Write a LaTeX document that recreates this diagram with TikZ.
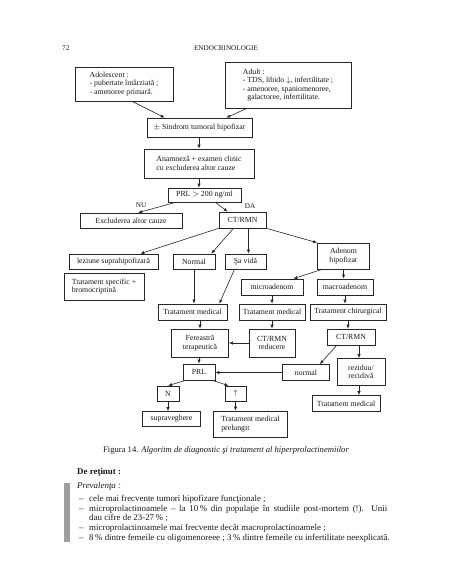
\documentclass[tikz,border=0pt]{standalone}
\usepackage{fontspec}
\setmainfont{Liberation Serif}
\usetikzlibrary{arrows.meta}

\begin{document}
\begin{tikzpicture}[x=1pt,y=-1pt,
    box/.style={draw=black!85, line width=0.6pt, font=\fontsize{7.8}{8.4}\selectfont, align=center, inner sep=1.5pt, text=black!90},
    arr/.style={draw=black!85, line width=0.6pt, -{Latex[length=4pt,width=3.2pt]}},
    lbl/.style={font=\fontsize{7.2}{8}\selectfont, inner sep=0pt, text=black!90},
    txt/.style={font=\fontsize{8.9}{9.7}\selectfont, anchor=base west, inner sep=0pt, text=black!90}]
\useasboundingbox[fill=white] (0,0) rectangle (452,584);

\node[lbl, anchor=base west] (pagenum) at (62,50) {72};
\node[lbl, anchor=base] (header) at (226,50) {ENDOCRINOLOGIE};

\node[box, minimum width=98, minimum height=34, align=left] (adol) at (124,84) {Adolescent :\\- pubertate întârziată ;\\- amenoree primară.};
\node[box, minimum width=126, minimum height=46, align=left] (adult) at (288,85) {Adult :\\- TDS, libido $\downarrow$, infertilitate ;\\- amenoree, spaniomenoree,\\\hphantom{- }galactoree, infertilitate.};
\node[box, minimum width=105, minimum height=19] (sindrom) at (199.5,127.5) {$\pm$ Sindrom tumoral hipofizar};
\node[box, minimum width=110, minimum height=29, align=left] (anam) at (199,163.5) {Anamneză + examen clinic\\cu excluderea altor cauze};
\node[box, minimum width=73, minimum height=14] (prl) at (204.5,195) {PRL~$>$~200 ng/ml};
\node[lbl] (nu) at (141,205) {NU};
\node[lbl] (da) at (250,206) {DA};
\node[box, minimum width=102, minimum height=15] (excl) at (131,220.5) {Excluderea altor cauze};
\node[box, minimum width=47, minimum height=16] (ct) at (242.5,220) {CT/RMN};

\node[box, minimum width=89, minimum height=15] (lez) at (113.5,261.5) {leziune suprahipofizară};
\node[box, minimum width=42, minimum height=15] (normal) at (194,261.5) {Normal};
\node[box, minimum width=41, minimum height=15] (savida) at (245.5,261.5) {Şa vidă};
\node[box, minimum width=52, minimum height=26] (adenom) at (343.5,256) {Adenom\\hipofizar};
\node[box, minimum width=80, minimum height=27, align=left] (tratspec) at (104,286.5) {Tratament specific +\\bromocriptină};
\node[box, minimum width=62, minimum height=16] (micro) at (272,287) {microadenom};
\node[box, minimum width=56, minimum height=16] (macro) at (345,287) {macroadenom};

\node[box, minimum width=69, minimum height=16] (med1) at (192.5,312) {Tratament medical};
\node[box, minimum width=66, minimum height=16] (med2) at (272,312) {Tratament medical};
\node[box, minimum width=76, minimum height=16] (chir) at (348,312) {Tratament chirurgical};
\node[box, minimum width=57, minimum height=28] (fer) at (200,343) {Fereastră\\terapeutică};
\node[box, minimum width=46, minimum height=28] (ctred) at (272,343) {CT/RMN\\reducere};
\node[box, minimum width=48, minimum height=16] (ct2) at (351,337) {CT/RMN};

\node[box, minimum width=32, minimum height=16] (prl2) at (199,372) {PRL};
\node[box, minimum width=47, minimum height=16] (normal2) at (306,372.5) {normal};
\node[box, minimum width=48, minimum height=27] (rez) at (361,372) {reziduu/\\recidivă};
\node[box, minimum width=22, minimum height=15] (n) at (168,393.5) {N};
\node[box, minimum width=21, minimum height=15] (up) at (235.5,393.5) {$\uparrow$};
\node[box, minimum width=68, minimum height=16] (med3) at (346,403.5) {Tratament medical};
\node[box, minimum width=58, minimum height=15] (supr) at (171.5,419) {supraveghere};
\node[box, minimum width=74, minimum height=26, align=left] (prel) at (250.5,424) {Tratament medical\\prelungit};

\draw[arr] ([xshift=8pt]adol.south) -- ([xshift=18pt]sindrom.north west);
\draw[arr] ([xshift=-41pt]adult.south) -- ([xshift=-26pt]sindrom.north east);
\draw[arr] (sindrom.south -| anam.north) -- (anam.north);
\draw[arr] (anam.south) -- (anam.south |- prl.north);
\draw[arr] ([xshift=8pt]prl.south west) -- ([xshift=7pt]excl.north);
\draw[arr] ([xshift=-26pt]prl.south east) -- ([xshift=9pt]ct.north west);
\draw[arr] (ct.south west) -- ([xshift=-18pt]lez.north east);
\draw[arr] ([xshift=-9pt]ct.south) -- ([xshift=-4pt]normal.north east);
\draw[arr] ([xshift=6pt]ct.south) -- ([xshift=6pt]ct.south |- savida.north);
\draw[arr] (ct.south east) -- (adenom.north west);
\draw[arr] ([xshift=5pt]adenom.south west) -- ([xshift=-10pt]micro.north east);
\draw[arr] (adenom.south) -- (adenom.south |- macro.north);
\draw[arr] (normal.south) -- (normal.south |- med1.north);
\draw[arr] ([xshift=-11pt]savida.south) -- ([xshift=-8pt]med1.north east);
\draw[arr] (micro) -- (med2);
\draw[arr] (macro.south) -- (macro.south |- chir.north);
\draw[arr] (med1.south -| fer.north) -- (fer.north);
\draw[arr] (med2) -- (ctred);
\draw[arr] (ctred.west) -- (ctred.west -| fer.east);
\draw[arr] (chir.south) -- (chir.south |- ct2.north);
\draw[arr] ([xshift=10pt]ct2.south west) -- ([xshift=-10pt]normal2.north east);
\draw[arr] ([xshift=8pt]ct2.south) -- ([xshift=8pt]ct2.south |- rez.north);
\draw[arr] (fer.south -| prl2.north) -- (prl2.north);
\draw[arr] (normal2.west) -- (normal2.west -| prl2.east);
\draw[arr] ([xshift=3pt]prl2.south west) -- (n.north);
\draw[arr] ([xshift=-3pt]prl2.south east) -- ([xshift=4pt]up.north west);
\draw[arr] (n.south) -- (n.south |- supr.north);
\draw[arr] (up.south) -- (up.south |- prel.north);
\draw[arr] ([xshift=-2pt]rez.south) -- ([xshift=-2pt]rez.south |- med3.north);

\node[font=\fontsize{8.6}{9}\selectfont, text=black!90] (caption) at (226,450) {Figura 14. \textit{Algoritm de diagnostic şi tratament al hiperprolactinemiilor}};

\node[txt, font=\bfseries\fontsize{8.9}{9.7}\selectfont] (retinut) at (77,474) {De reţinut :};
\fill[black!38] (64,483) rectangle (70,542);
\node[txt, font=\itshape\fontsize{8.9}{9.7}\selectfont] (prev) at (77,488.5) {Prevalenţa :};
\foreach \y in {501.5,511.2,530.6,540.3}
    \node[txt] at (79,\y) {--};
\node[txt] (item1) at (89,501.5) {cele mai frecvente tumori hipofizare funcţionale ;};
\node[txt] (item2) at (89,511.2) {\makebox[298pt][s]{microprolactinoamele -- la 10\,\% din populaţie în studiile post-mortem (!). Unii}};
\node[txt] (item2b) at (89,520.9) {dau cifre de 23-27\,\% ;};
\node[txt] (item3) at (89,530.6) {microprolactinoamele mai frecvente decât macroprolactinoamele ;};
\node[txt] (item4) at (89,540.3) {8\,\% dintre femeile cu oligomenoreee ; 3\,\% dintre femeile cu infertilitate neexplicată.};
\end{tikzpicture}
\end{document}
